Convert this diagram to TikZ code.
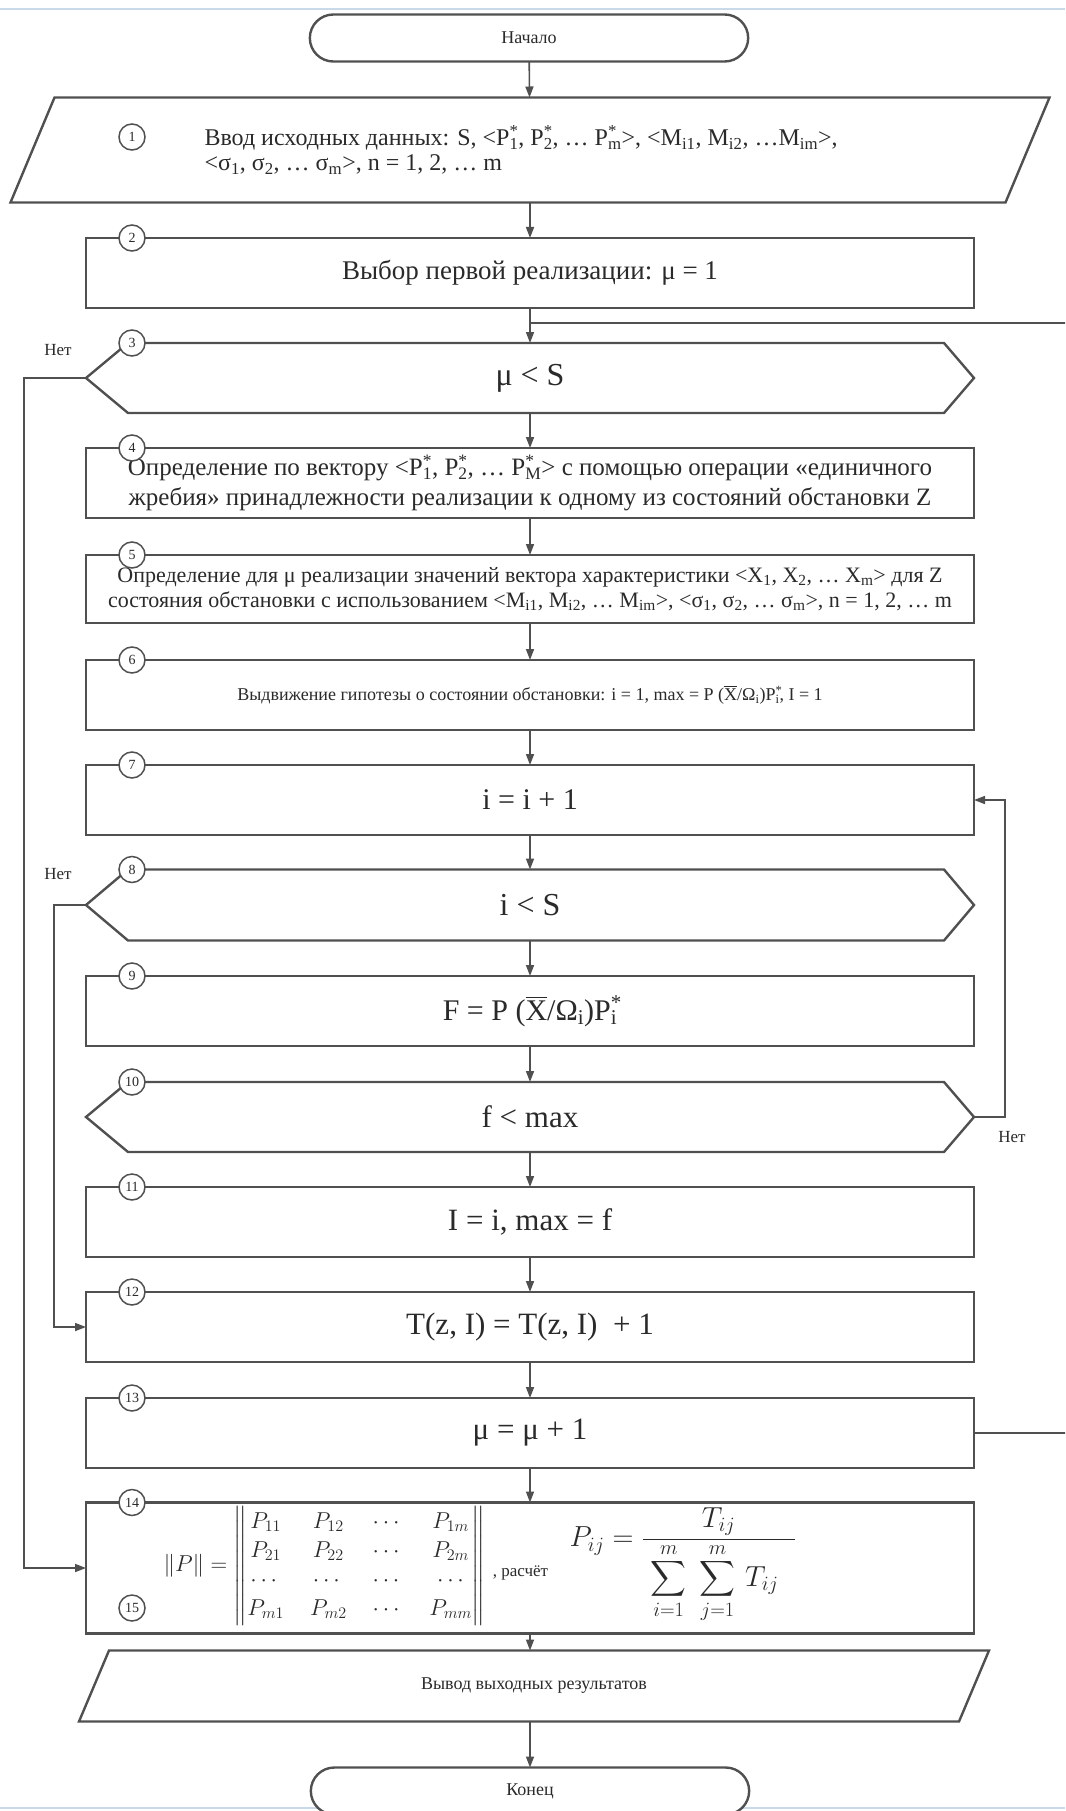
\RequirePackage{fix-cm}
\documentclass[tikz,border=0pt]{standalone}
\usepackage{amsmath}
\usepackage{fontspec}
\setmainfont{Liberation Serif}
\usepackage{tikz}
\usetikzlibrary{shapes.misc, arrows.meta}

\definecolor{linegray}{HTML}{505050}
\definecolor{textgray}{HTML}{2A2A2A}
\definecolor{edgeblue}{HTML}{C9D9EA}

\newcommand{\fsz}[2]{\fontsize{#1}{#2}\selectfont}
\newcommand{\subsup}[2]{\rlap{\textsuperscript{#2}}\textsubscript{#1}}
\newcommand{\xbar}{$\overline{\mbox{X}}$}

\begin{document}
\begin{tikzpicture}[x=1pt, y=-1pt, >={Triangle[length=11pt, width=8pt]},
    every node/.style={text=textgray},
    outline/.style={draw=linegray, line width=2.4pt},
    term/.style={outline, rounded rectangle, fill=white, outer sep=0pt,
        minimum width=445, minimum height=47, font=\fsz{18}{20}},
    io/.style={rectangle, outer sep=0pt, inner sep=0pt},
    proc/.style={outline, rectangle, fill=white, outer sep=0pt, inner sep=0pt,
        minimum width=888, minimum height=70, align=center},
    decide/.style={rectangle, outer sep=0pt, inner sep=0pt, minimum width=888, minimum height=70},
    num/.style={draw=linegray, line width=1.5pt, circle, fill=white, minimum size=26,
        inner sep=0pt, font=\fsz{14}{14}},
    note/.style={font=\fsz{17}{17}},
    flow/.style={draw=linegray, line width=1.6pt, ->}
]
    \useasboundingbox (0,0) rectangle (1065,1811);
    \clip (0,0) rectangle (1065,1811);

    % window edges of the screenshot
    \draw[edgeblue, line width=2pt] (0,9) -- (1065,9);
    \draw[edgeblue, line width=1.5pt] (0,1808) -- (1065,1808);

    \node[term] at (529, 38) (t0) {Начало};
    \node[io, minimum width=995, minimum height=105] at (530, 150) (p1) {};
    \node[font=\fsz{24}{25}, align=left, anchor=west] at (201, 150) (p1t)
        {Ввод исходных данных: S, <P\subsup{1}{*}, P\subsup{2}{*}, … P\subsup{m}{*}>, <M\textsubscript{i1}, M\textsubscript{i2}, …M\textsubscript{im}>,\\
         <σ\textsubscript{1}, σ\textsubscript{2}, … σ\textsubscript{m}>, n = 1, 2, … m};
    \node[proc, font=\fsz{27}{30}] at (530, 273) (b2) {Выбор первой реализации: μ = 1};
    \node[decide, font=\fsz{32}{32}] at (530, 378) (d3) {μ < S};
    \node[proc, font=\fsz{25}{30}] at (530, 483) (b4)
        {Определение по вектору <P\subsup{1}{*}, P\subsup{2}{*}, … P\subsup{M}{*}> с помощью операции «единичного\\
         жребия» принадлежности реализации к одному из состояний обстановки Z};
    \node[proc, minimum height=68, font=\fsz{22}{25}] at (530, 589) (b5)
        {Определение для μ реализации значений вектора характеристики <X\textsubscript{1}, X\textsubscript{2}, … X\textsubscript{m}> для Z\\
         состояния обстановки с использованием <M\textsubscript{i1}, M\textsubscript{i2}, … M\textsubscript{im}>, <σ\textsubscript{1}, σ\textsubscript{2}, … σ\textsubscript{m}>, n = 1, 2, … m};
    \node[proc, font=\fsz{18}{20}] at (530, 695) (b6)
        {Выдвижение гипотезы о состоянии обстановки: i = 1, max = P (\xbar/Ω\textsubscript{i})P\subsup{i}{*}, I = 1};
    \node[proc, font=\fsz{30}{32}] at (530, 800) (b7) {i = i + 1};
    \node[decide, minimum height=71, font=\fsz{32}{32}] at (530, 905) (d8) {i < S};
    \node[proc, font=\fsz{30}{32}] at (530, 1011) (b9) {F = P (\xbar/Ω\textsubscript{i})P\subsup{i}{*}};
    \node[decide, font=\fsz{31}{32}] at (530, 1117) (d10) {f < max};
    \node[proc, font=\fsz{31}{32}] at (530, 1222) (b11) {I = i, max = f};
    \node[proc, font=\fsz{31}{32}] at (530, 1327) (b12) {T(z, I) = T(z, I) \ + 1};
    \node[proc, font=\fsz{31}{32}] at (530, 1433) (b13) {μ = μ + 1};
    \node[proc, minimum height=131] at (530, 1568) (b14) {};
    \node[font=\fsz{23}{29}, anchor=west] at (160, 1566) (m14)
        {\setlength{\arraycolsep}{13pt}$\|P\| = \left\|\begin{matrix}
            P_{11} & P_{12} & \cdots & P_{1m}\\
            P_{21} & P_{22} & \cdots & P_{2m}\\
            \cdots & \cdots & \cdots & \cdots\\
            P_{m1} & P_{m2} & \cdots & P_{mm}
         \end{matrix}\right\|$};
    \node[font=\fsz{17}{17}, anchor=west] at (m14.east |- 0,1573) (r14) {, расчёт};
    \node[font=\fsz{29}{32}, anchor=west] at (566, 1565) (f14)
        {$P_{ij} = \dfrac{T_{ij}}{\;\displaystyle\sum_{i=1}^{m}\;\sum_{j=1}^{m}\, T_{ij}\;\;}$};
    \node[io, minimum width=880, minimum height=71, font=\fsz{18}{20}] at (534, 1686) (p2)
        {Вывод выходных результатов};
    \node[term] at (530, 1791) (t1) {Конец};

    % outlines of the data blocks and of the decisions
    \foreach \p/\s in {p1/22, p2/15}
        \draw[outline] ([xshift=\s]\p.north west) -- ([xshift=\s]\p.north east)
            -- ([xshift=-\s]\p.south east) -- ([xshift=-\s]\p.south west) -- cycle;
    \foreach \d in {d3, d8, d10}
        \draw[outline] ([xshift=42]\d.north west) -- ([xshift=-30]\d.north east) -- (\d.east)
            -- ([xshift=-30]\d.south east) -- ([xshift=42]\d.south west) -- (\d.west) -- cycle;

    % main flow
    \draw[flow] (t0) -- (p1);
    \draw[flow] (p1) -- (b2);
    \draw[flow] (b2) -- (d3);
    \draw[flow] (d3) -- (b4);
    \draw[flow] (b4) -- (b5);
    \draw[flow] (b5) -- (b6);
    \draw[flow] (b6) -- (b7);
    \draw[flow] (b7) -- (d8);
    \draw[flow] (d8) -- (b9);
    \draw[flow] (b9) -- (d10);
    \draw[flow] (d10) -- (b11);
    \draw[flow] (b11) -- (b12);
    \draw[flow] (b12) -- (b13);
    \draw[flow] (b13) -- (b14);
    \draw[flow] (b14) -- (b14 |- p2.north);
    \draw[flow] (p2.south -| t1) -- (t1);

    % branches
    \node[note] at (58, 350) (no3) {Нет};
    \node[note] at (58, 874) (no8) {Нет};
    \node[note] at (1012, 1137) (no10) {Нет};
    \draw[flow] (d3.west) -- ++(-62,0) |- (b14.west);
    \draw[flow] (d8.west) -- ++(-32,0) |- (b12.west);
    \draw[flow] (d10.east) -- ++(31,0) |- (b7.east);
    \coordinate (back) at (530, 323);
    \draw[flow, -] (b13.east) -- ++(150,0) |- (back);

    % block numbers
    \node[num] at (132, 137) (n1) {1};
    \foreach \n/\b in {2/b2, 3/d3, 4/b4, 5/b5, 6/b6, 7/b7, 8/d8, 9/b9, 10/d10, 11/b11, 12/b12, 13/b13, 14/b14}
        \node[num] at ([xshift=46]\b.north west) (n\n) {\n};
    \node[num] at (132, 1608) (n15) {15};
\end{tikzpicture}
\end{document}
